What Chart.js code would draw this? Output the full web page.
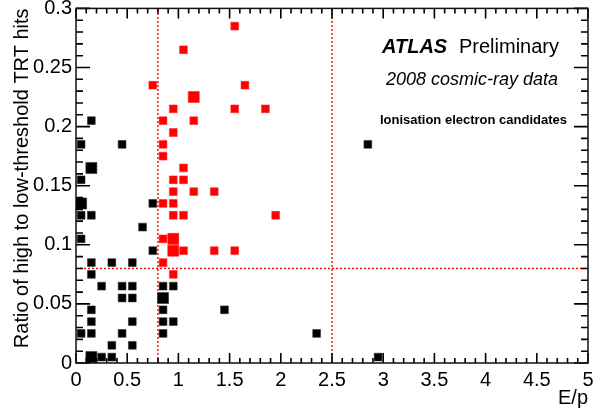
<!DOCTYPE html>
<html>
<head>
<meta charset="utf-8">
<script src="https://cdn.jsdelivr.net/npm/chart.js@4/dist/chart.umd.min.js"></script>
<style>
  html, body { margin: 0; padding: 0; background: #fff; }
  #wrap { width: 604px; height: 415px; }
</style>
</head>
<body>
<div id="wrap"><canvas id="c" width="604" height="415"></canvas></div>
<script>
// bin centres: E/p, high/low TRT ratio, entries in bin
const blackEp    = [0.15, 0.05, 0.45, 0.15, 0.05, 0.05, 0.75, 0.05, 0.15, 0.65, 0.05, 0.75,
                    0.15, 0.35, 0.55, 0.15, 0.25, 0.45, 0.55, 0.85, 0.95, 0.45, 0.55, 0.85,
                    0.15, 0.85, 1.45, 0.15, 0.55, 0.85, 0.95, 0.05, 0.15, 0.45, 0.85, 2.35,
                    0.35, 0.55, 0.15, 0.25, 0.35, 2.95, 2.85];
const blackRatio = [0.205, 0.185, 0.185, 0.165, 0.155, 0.135, 0.135, 0.125, 0.125, 0.115, 0.105, 0.095,
                    0.085, 0.085, 0.085, 0.075, 0.065, 0.065, 0.065, 0.065, 0.065, 0.055, 0.055, 0.055,
                    0.045, 0.045, 0.045, 0.035, 0.035, 0.035, 0.035, 0.025, 0.025, 0.025, 0.025, 0.025,
                    0.015, 0.015, 0.005, 0.005, 0.005, 0.005, 0.185];
const blackCount = [1, 1, 1, 2, 1, 2, 1, 1, 1, 1, 1, 1,
                    1, 1, 1, 1, 1, 1, 1, 1, 1, 1, 1, 2,
                    1, 1, 1, 1, 1, 1, 1, 1, 1, 1, 1, 1,
                    1, 1, 2, 1, 1, 1, 1];

const redEp    = [1.55, 1.05, 0.75, 1.65, 1.15, 0.95, 1.55, 1.85, 0.85, 1.15, 0.95, 0.85,
                  0.85, 1.05, 0.95, 1.05, 0.95, 1.15, 1.35, 0.85, 0.95, 0.95, 1.05, 1.95,
                  0.85, 0.95, 0.95, 1.05, 1.35, 1.55, 0.85, 0.95];
const redRatio = [0.285, 0.265, 0.235, 0.235, 0.225, 0.215, 0.215, 0.215, 0.205, 0.205, 0.195, 0.185,
                  0.175, 0.165, 0.155, 0.155, 0.145, 0.145, 0.145, 0.135, 0.135, 0.125, 0.125, 0.125,
                  0.105, 0.105, 0.095, 0.095, 0.095, 0.095, 0.085, 0.075];
const redCount = [1, 1, 1, 1, 2, 1, 1, 1, 1, 1, 1, 1,
                  1, 1, 1, 1, 1, 1, 1, 1, 1, 1, 1, 1,
                  1, 2, 2, 1, 1, 1, 1, 1];

const xTicks = [0, 0.5, 1, 1.5, 2, 2.5, 3, 3.5, 4, 4.5, 5];
const yTicks = [0, 0.05, 0.1, 0.15, 0.2, 0.25, 0.3];
const epCuts = [0.8, 2.5];
const ratioCut = 0.08;

const FONT = '"Liberation Sans", Arial, Helvetica, sans-serif';

function points(xs, ys) {
  return xs.map((x, i) => ({ x: x, y: ys[i] }));
}
function boxSize(counts) {
  return counts.map(n => n > 1 ? 7.8 : 5.5);
}

const atlasDeco = {
  id: 'atlasDeco',
  beforeDatasetsDraw(chart) {
    const { ctx, chartArea: a, scales: { x, y } } = chart;
    ctx.save();
    ctx.strokeStyle = '#ff0000';
    ctx.lineWidth = 1.4;
    ctx.setLineDash([2, 2]);
    epCuts.forEach(v => {
      const px = x.getPixelForValue(v);
      ctx.beginPath();
      ctx.moveTo(px, a.bottom);
      ctx.lineTo(px, a.top);
      ctx.stroke();
    });
    const py = y.getPixelForValue(ratioCut);
    ctx.beginPath();
    ctx.moveTo(a.left, py);
    ctx.lineTo(a.right, py);
    ctx.stroke();
    ctx.restore();
  },
  afterDraw(chart) {
    const { ctx, chartArea: a, scales: { x, y } } = chart;
    ctx.save();

    // tick marks, inside the frame on all four sides
    ctx.strokeStyle = '#000';
    ctx.lineWidth = 1.6;
    ctx.beginPath();
    for (let i = 0; i <= 50; i++) {
      const px = x.getPixelForValue(i / 10);
      const len = i % 5 === 0 ? 10 : 5;
      ctx.moveTo(px, a.bottom); ctx.lineTo(px, a.bottom - len);
      ctx.moveTo(px, a.top); ctx.lineTo(px, a.top + len);
    }
    for (let i = 0; i <= 30; i++) {
      const py = y.getPixelForValue(i / 100);
      const len = i % 5 === 0 ? 14 : 7;
      ctx.moveTo(a.left, py); ctx.lineTo(a.left + len, py);
      ctx.moveTo(a.right, py); ctx.lineTo(a.right - len, py);
    }
    ctx.stroke();

    // frame
    ctx.strokeStyle = '#111';
    ctx.lineWidth = 1.5;
    ctx.strokeRect(a.left, a.top, a.right - a.left, a.bottom - a.top);

    // axis titles
    ctx.fillStyle = '#000';
    ctx.font = '20px ' + FONT;
    ctx.textAlign = 'right';
    ctx.textBaseline = 'alphabetic';
    ctx.fillText('E/p', a.right, 404);

    ctx.translate(28, a.top);
    ctx.rotate(-Math.PI / 2);
    ctx.fillText('Ratio of high to low-threshold TRT hits', 0, 0);
    ctx.setTransform(1, 0, 0, 1, 0, 0);

    // labels in the top right
    ctx.textAlign = 'left';
    ctx.font = 'italic bold 20px ' + FONT;
    ctx.fillText('ATLAS', 382, 53);
    ctx.font = '20px ' + FONT;
    ctx.fillText('Preliminary', 459, 53);

    ctx.textAlign = 'right';
    ctx.font = 'italic 18px ' + FONT;
    ctx.fillText('2008 cosmic-ray data', 558, 85);

    ctx.font = 'bold 13px ' + FONT;
    ctx.fillText('Ionisation electron candidates', 567, 124);

    ctx.restore();
  }
};

new Chart(document.getElementById('c'), {
  type: 'scatter',
  data: {
    datasets: [
      {
        label: 'failing cuts',
        data: points(blackEp, blackRatio),
        pointStyle: 'rect',
        pointRadius: boxSize(blackCount),
        backgroundColor: '#000',
        borderColor: '#333',
        borderWidth: 0.6
      },
      {
        label: 'electron candidates',
        data: points(redEp, redRatio),
        pointStyle: 'rect',
        pointRadius: boxSize(redCount),
        backgroundColor: '#ff0000',
        borderColor: '#ff2a2a',
        borderWidth: 0.6
      }
    ]
  },
  options: {
    responsive: false,
    animation: false,
    events: [],
    layout: { padding: { top: 7, right: 16, left: 0, bottom: 0 } },
    plugins: {
      legend: { display: false },
      tooltip: { enabled: false }
    },
    scales: {
      x: {
        type: 'linear',
        min: 0,
        max: 5,
        grid: { display: false, drawTicks: false },
        border: { display: false },
        afterBuildTicks: s => { s.ticks = xTicks.map(v => ({ value: v })); },
        afterFit: s => { s.height = 52; s.paddingLeft = 0; s.paddingRight = 0; },
        ticks: {
          autoSkip: false,
          maxRotation: 0,
          padding: 5,
          color: '#000',
          font: { family: FONT, size: 20 },
          callback: v => String(v)
        }
      },
      y: {
        type: 'linear',
        min: 0,
        max: 0.3,
        grid: { display: false, drawTicks: false },
        border: { display: false },
        afterBuildTicks: s => { s.ticks = yTicks.map(v => ({ value: v })); },
        afterFit: s => { s.width = 76; s.paddingTop = 0; s.paddingBottom = 0; },
        ticks: {
          autoSkip: false,
          padding: 4,
          color: '#000',
          font: { family: FONT, size: 20 },
          callback: v => String(v)
        }
      }
    }
  },
  plugins: [atlasDeco]
});
</script>
</body>
</html>
